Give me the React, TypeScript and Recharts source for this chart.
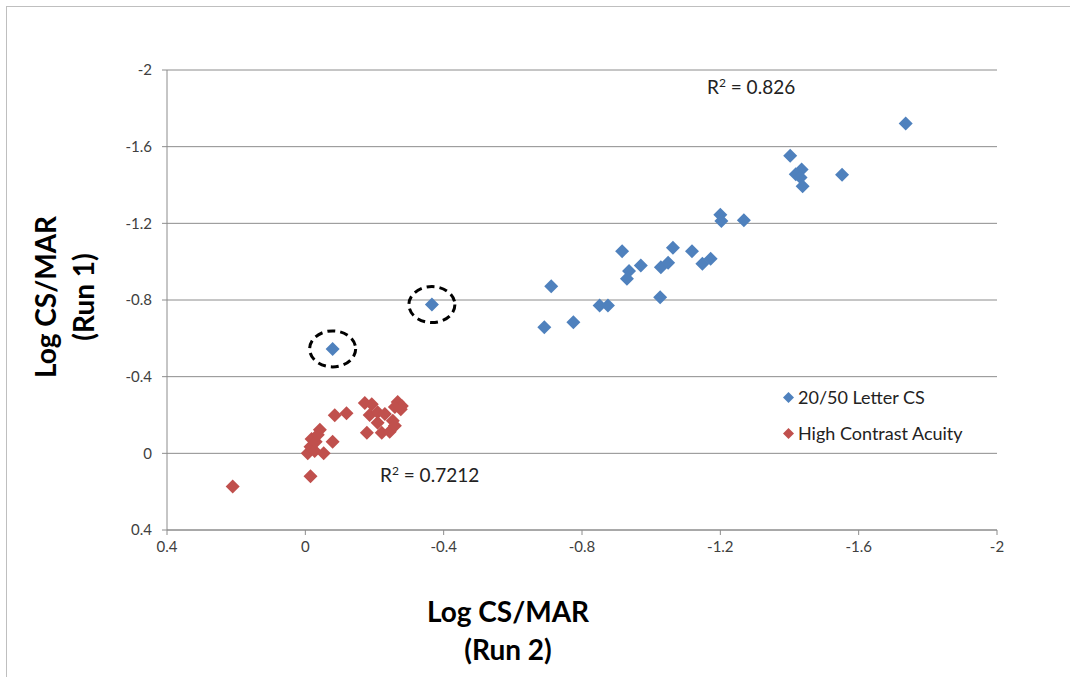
import React from "react";
import {
  CartesianGrid,
  ReferenceDot,
  Scatter,
  ScatterChart,
  XAxis,
  YAxis,
} from "recharts";

// Log CS/MAR, run 2 (x) vs run 1 (y)
const letterX = [
  -1.736, -1.402, -1.435, -1.418, -1.432, -1.438, -1.552, -1.2, -1.203, -1.268,
  -0.916, -0.711, -1.063, -1.118, -0.936, -0.93, -0.97, -1.028, -1.049, -1.148,
  -1.172, -1.026, -0.851, -0.875, -0.691, -0.775, -0.366, -0.079,
];
const letterY = [
  -1.721, -1.552, -1.481, -1.456, -1.439, -1.393, -1.453, -1.245, -1.212, -1.216,
  -1.055, -0.872, -1.073, -1.055, -0.951, -0.911, -0.98, -0.971, -0.995, -0.989,
  -1.015, -0.815, -0.771, -0.771, -0.658, -0.684, -0.776, -0.545,
];
const acuityX = [
  0.21, -0.015, -0.007, -0.015, -0.027, -0.018, -0.042, -0.03, -0.053, -0.079,
  -0.085, -0.119, -0.172, -0.192, -0.186, -0.209, -0.23, -0.267, -0.279, -0.259,
  -0.253, -0.209, -0.178, -0.221, -0.244, -0.259, -0.276, -0.036,
];
const acuityY = [
  0.173, 0.12, 0.0, -0.035, -0.012, -0.075, -0.123, -0.06, 0.0, -0.06,
  -0.199, -0.209, -0.262, -0.256, -0.2, -0.215, -0.205, -0.268, -0.247, -0.242,
  -0.17, -0.16, -0.107, -0.107, -0.113, -0.144, -0.23, -0.097,
];
const circled = [26, 27]; // outliers marked with dashed rings
const xTicks = [0.4, 0, -0.4, -0.8, -1.2, -1.6, -2];
const yTicks = [-2, -1.6, -1.2, -0.8, -0.4, 0, 0.4];
const seriesNames = ["20/50 Letter CS", "High Contrast Acuity"];

const letterData = letterX.map((x, i) => ({ x, y: letterY[i] }));
const acuityData = acuityX.map((x, i) => ({ x, y: acuityY[i] }));

const BLUE = "#4F81BD";
const RED = "#C0504D";
const FONT = "Lato, 'Open Sans', sans-serif";

const diamond = (color: string, h = 7) => (props: any) => {
  const { cx, cy } = props;
  return (
    <path
      d={`M${cx},${cy - h}L${cx + h},${cy}L${cx},${cy + h}L${cx - h},${cy}Z`}
      fill={color}
    />
  );
};

const ring = (props: any) => (
  <ellipse
    cx={props.cx}
    cy={props.cy}
    rx={23}
    ry={18}
    fill="none"
    stroke="#000"
    strokeWidth={3}
    strokeDasharray="8 5"
  />
);

const tickStyle = { fill: "#404040", fontSize: 15, fontFamily: FONT };
const titleStyle: React.CSSProperties = {
  position: "absolute",
  fontFamily: FONT,
  fontWeight: 700,
  fontSize: 28,
  lineHeight: "38px",
  color: "#000",
  textAlign: "center",
  whiteSpace: "nowrap",
};

export default function App() {
  return (
    <div
      style={{
        position: "absolute",
        left: 0,
        top: 0,
        width: 1070,
        height: 677,
        background: "#fff",
        overflow: "hidden",
      }}
    >
      <div
        style={{
          position: "absolute",
          left: 6,
          top: 6,
          width: 1080,
          height: 700,
          borderLeft: "1px solid #bfbfbf",
          borderTop: "1px solid #bfbfbf",
        }}
      />
      <div style={{ position: "absolute", left: 0, top: 0 }}>
        <ScatterChart
          width={1070}
          height={677}
          margin={{ top: 70, right: 73, bottom: 117, left: 117 }}
        >
          <CartesianGrid vertical={false} stroke="#8c8c8c" />
          <XAxis
            type="number"
            dataKey="x"
            domain={[-2, 0.4]}
            ticks={xTicks}
            reversed
            allowDataOverflow
            height={30}
            stroke="#8c8c8c"
            tickSize={5}
            tick={{ ...tickStyle, dy: 4 }}
            tickFormatter={(v) => String(v)}
          />
          <YAxis
            type="number"
            dataKey="y"
            domain={[-2, 0.4]}
            ticks={yTicks}
            reversed
            allowDataOverflow
            width={50}
            stroke="#8c8c8c"
            tickSize={5}
            tick={{ ...tickStyle, dx: -8 }}
            tickFormatter={(v) => String(v)}
          />
          <Scatter
            name={seriesNames[0]}
            data={letterData}
            fill={BLUE}
            shape={diamond(BLUE)}
            isAnimationActive={false}
          />
          <Scatter
            name={seriesNames[1]}
            data={acuityData}
            fill={RED}
            shape={diamond(RED)}
            isAnimationActive={false}
          />
          {circled.map((i) => (
            <ReferenceDot
              key={i}
              x={letterX[i]}
              y={letterY[i]}
              r={20}
              shape={ring}
              ifOverflow="visible"
            />
          ))}
        </ScatterChart>
      </div>
      <div
        style={{
          position: "absolute",
          left: 782,
          top: 379,
          fontFamily: FONT,
          fontSize: 18,
          color: "#222",
        }}
      >
        {seriesNames.map((name, i) => (
          <div key={name} style={{ display: "flex", alignItems: "center", height: 36 }}>
            <svg width={13} height={13} style={{ marginRight: 3 }}>
              <path d="M6.5,1L12,6.5L6.5,12L1,6.5Z" fill={i === 0 ? BLUE : RED} />
            </svg>
            {name}
          </div>
        ))}
      </div>
      <div style={{ position: "absolute", left: 707, top: 75, fontFamily: FONT, fontSize: 19, color: "#222" }}>
        R<sup style={{ fontSize: 12 }}>2</sup> = 0.826
      </div>
      <div style={{ position: "absolute", left: 380, top: 463, fontFamily: FONT, fontSize: 19, color: "#222" }}>
        R<sup style={{ fontSize: 12 }}>2</sup> = 0.7212
      </div>
      <div style={{ ...titleStyle, left: 408, top: 592, width: 200 }}>
        Log CS/MAR
        <br />
        (Run 2)
      </div>
      <div
        style={{
          ...titleStyle,
          left: 64 - 100,
          top: 297 - 38,
          width: 200,
          transform: "rotate(-90deg)",
        }}
      >
        Log CS/MAR
        <br />
        (Run 1)
      </div>
    </div>
  );
}
